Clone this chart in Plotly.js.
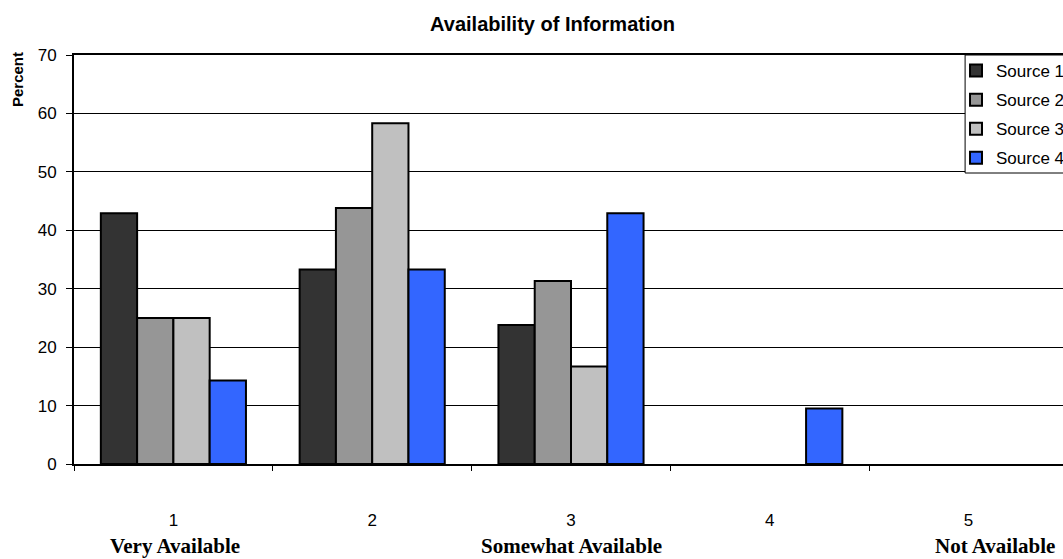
<!DOCTYPE html>
<html>
<head>
<meta charset="utf-8">
<script src="https://cdn.plot.ly/plotly-3.0.1.min.js"></script>
<style>
  html, body { margin: 0; padding: 0; overflow: hidden; background: #fff; }
  #chart { width: 1080px; height: 559px; }
</style>
</head>
<body>
<div id="chart"></div>
<script>
// Rating scale (1 = very available ... 5 = not available)
const categories = ['1', '2', '3', '4', '5'];

// Percent of respondents choosing each rating, per source
const source1 = [42.9, 33.3, 23.8, 0, 0];
const source2 = [25.0, 43.8, 31.3, 0, 0];
const source3 = [25.0, 58.3, 16.7, 0, 0];
const source4 = [14.3, 33.3, 42.9, 9.5, 0];

const seriesNames = ['Source 1', 'Source 2', 'Source 3', 'Source 4'];
const seriesValues = [source1, source2, source3, source4];
const seriesColors = ['#333333', '#969696', '#C0C0C0', '#3366FF'];

// Scale anchor labels shown under the axis
const scaleLabels = ['Very Available', 'Somewhat Available', 'Not Available'];

const traces = seriesNames.map((name, i) => ({
  type: 'bar',
  name: name,
  x: categories,
  y: seriesValues[i],
  legendgroup: 'g' + i,
  marker: {
    color: seriesColors[i],
    // empty bars get no outline
    line: { color: '#000', width: seriesValues[i].map(v => (v > 0 ? 2 : 0)) }
  },
  hoverinfo: 'name+y'
}));

const W = 1080, H = 559;
const M = { l: 74, r: 11, t: 55, b: 95 };
const plotW = W - M.l - M.r;
const px = v => (v - M.l) / plotW;               // pixel x -> paper x
const py = v => (H - M.b - v) / (H - M.t - M.b); // pixel y -> paper y

const serifBold = { family: '"Liberation Serif", "Times New Roman", serif', size: 21, color: '#000' };

const layout = {
  width: W,
  height: H,
  margin: M,
  paper_bgcolor: '#fff',
  plot_bgcolor: '#fff',
  barmode: 'group',
  bargap: 0.27,
  bargroupgap: 0,
  font: { family: 'Arial, "Liberation Sans", sans-serif', size: 16, color: '#000' },
  title: {
    text: '<b>Availability of Information</b>',
    font: { family: 'Arial, "Liberation Sans", sans-serif', size: 20, color: '#000' },
    x: px(553), xref: 'paper', xanchor: 'center',
    y: 1 - 24 / H, yanchor: 'middle'
  },
  xaxis: {
    type: 'category',
    range: [-0.5, 4.5],
    showline: true, linecolor: '#000', linewidth: 2, mirror: true,
    ticks: 'outside', ticklen: 5, tickcolor: '#000', tickwidth: 1,
    tickson: 'boundaries',
    showgrid: false, zeroline: false,
    ticklabelstandoff: 40,
    tickfont: { family: '"Liberation Sans Narrow", "Arial Narrow", Arial, sans-serif', size: 17, color: '#000' }
  },
  yaxis: {
    range: [0, 70],
    dtick: 10,
    showline: true, linecolor: '#000', linewidth: 2, mirror: true,
    ticks: 'outside', ticklen: 6, tickcolor: '#000', tickwidth: 1,
    showgrid: true, gridcolor: '#000', gridwidth: 1,
    zeroline: false,
    ticklabelstandoff: 6,
    tickfont: { size: 17, color: '#000' }
  },
  legend: {
    x: px(956), xanchor: 'left',
    y: py(53), yanchor: 'top',
    bgcolor: 'rgba(0,0,0,0)',
    borderwidth: 0,
    font: { size: 17, color: '#000' },
    traceorder: 'grouped',
    tracegroupgap: 4,
    itemclick: false, itemdoubleclick: false
  },
  shapes: [{
    type: 'rect', xref: 'paper', yref: 'paper', layer: 'above',
    x0: px(966), x1: px(1090), y0: py(173), y1: py(55),
    line: { color: '#000', width: 1 }, fillcolor: '#fff'
  }],
  annotations: [
    {
      text: '<b>Percent</b>', textangle: -90,
      xref: 'paper', yref: 'paper',
      x: px(17), y: py(80), xanchor: 'center', yanchor: 'middle',
      showarrow: false,
      font: { family: 'Arial, "Liberation Sans", sans-serif', size: 15, color: '#000' }
    },
    {
      text: '<b>' + scaleLabels[0] + '</b>',
      xref: 'paper', yref: 'paper', x: px(175), y: py(546),
      xanchor: 'center', yanchor: 'middle', showarrow: false, font: serifBold
    },
    {
      text: '<b>' + scaleLabels[1] + '</b>',
      xref: 'paper', yref: 'paper', x: px(572), y: py(546),
      xanchor: 'center', yanchor: 'middle', showarrow: false, font: serifBold
    },
    {
      text: '<b>' + scaleLabels[2] + '</b>',
      xref: 'paper', yref: 'paper', x: px(996), y: py(546),
      xanchor: 'center', yanchor: 'middle', showarrow: false, font: serifBold
    }
  ]
};

Plotly.newPlot('chart', traces, layout, { displayModeBar: false, staticPlot: true });
</script>
</body>
</html>
